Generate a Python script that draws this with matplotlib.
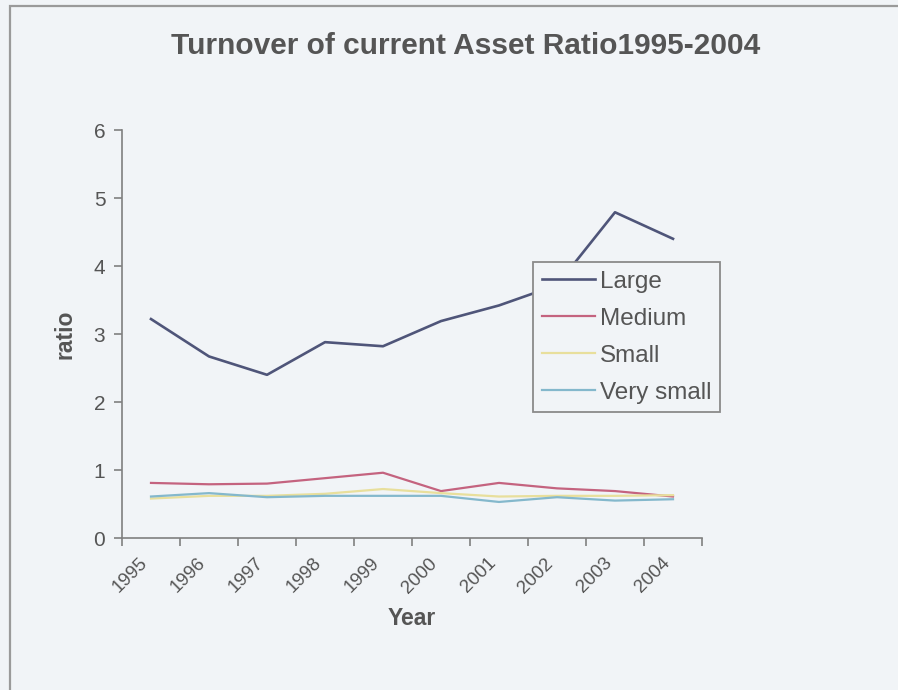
import numpy as np
import matplotlib.pyplot as plt
from matplotlib.patches import Rectangle

# turnover of current asset ratio by company size
years = ['1995', '1996', '1997', '1998', '1999', '2000', '2001', '2002', '2003', '2004']
large = [3.22, 2.67, 2.40, 2.88, 2.82, 3.19, 3.42, 3.72, 4.79, 4.40]
medium = [0.81, 0.79, 0.80, 0.88, 0.96, 0.69, 0.81, 0.73, 0.69, 0.61]
small = [0.58, 0.62, 0.62, 0.65, 0.72, 0.66, 0.61, 0.62, 0.62, 0.63]
very_small = [0.61, 0.66, 0.60, 0.62, 0.62, 0.62, 0.53, 0.60, 0.55, 0.57]
series_names = ['Large', 'Medium', 'Small', 'Very small']

BG = '#f1f4f7'
TXT = '#555555'
AXC = '#808080'

plt.rcParams['font.family'] = ['Liberation Sans', 'DejaVu Sans']

fig = plt.figure(figsize=(8.98, 6.9), dpi=100, facecolor=BG)
# chart frame
fig.patches.append(Rectangle((10 / 898, -0.05), 1.0, 1 - 6 / 690 + 0.05,
                             transform=fig.transFigure, fill=False,
                             edgecolor='#9a9a9a', lw=1.6))

ax = fig.add_axes([122 / 898, 1 - 538 / 690, 580 / 898, 408 / 690])
ax.set_facecolor(BG)

x = np.arange(len(years))
l1, = ax.plot(x, large, color='#4f5579', lw=1.9)
l2, = ax.plot(x, medium, color='#c4637f', lw=1.6)
l3, = ax.plot(x, small, color='#e8df9c', lw=1.6)
l4, = ax.plot(x, very_small, color='#84b8cc', lw=1.6)

ax.set_xlim(-0.5, len(years) - 0.5)
ax.set_ylim(0, 6)
ax.set_yticks(range(0, 7))
ax.set_xticks(np.arange(-0.5, len(years)))
ax.set_xticklabels([])
ax.set_xticks(x, minor=True)
ax.set_xticklabels(years, minor=True, rotation=45, ha='right', va='top')
ax.tick_params(axis='x', which='minor', length=0, pad=12, labelsize=13.5, labelcolor=TXT)
ax.tick_params(axis='x', which='major', length=6, color=AXC, width=1.2)
ax.tick_params(axis='y', length=6, color=AXC, width=1.2, pad=6, labelsize=15, labelcolor=TXT)

for side in ['top', 'right']:
    ax.spines[side].set_visible(False)
for side in ['left', 'bottom']:
    ax.spines[side].set_color(AXC)
    ax.spines[side].set_linewidth(1.2)

ax.set_ylabel('ratio', fontsize=16.5, fontweight='bold', color=TXT, labelpad=12)
ax.set_xlabel('Year', fontsize=16.5, fontweight='bold', color=TXT, labelpad=8)

fig.text(466 / 898, 1 - 46 / 690, 'Turnover of current Asset Ratio1995-2004',
         ha='center', va='center', fontsize=21.5, fontweight='bold', color=TXT)

leg = ax.legend([l1, l2, l3, l4], series_names, loc='upper left',
                bbox_to_anchor=(533 / 898, 1 - 262 / 690), bbox_transform=fig.transFigure,
                borderaxespad=0, fontsize=17.5, frameon=True, fancybox=False,
                handlelength=2.2, handletextpad=0.2, labelspacing=0.62,
                borderpad=0.35)
leg.get_frame().set_edgecolor('#8a8a8a')
leg.get_frame().set_linewidth(1.3)
leg.get_frame().set_facecolor(BG)
leg.get_frame().set_alpha(1)
for t in leg.get_texts():
    t.set_color(TXT)

fig.savefig('out.png', dpi=100, facecolor=BG)
